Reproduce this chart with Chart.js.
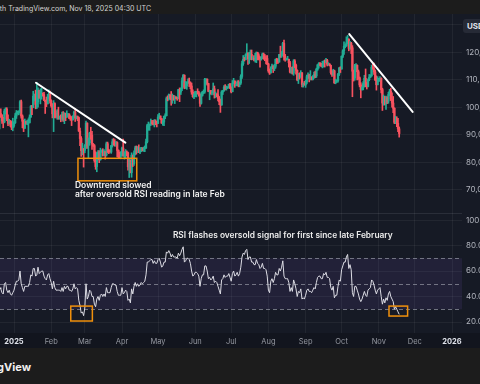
<!DOCTYPE html>
<html>
<head>
<meta charset="utf-8">
<script src="https://cdn.jsdelivr.net/npm/chart.js@4.4.1/dist/chart.umd.min.js"></script>
<style>
  html, body { margin: 0; padding: 0; width: 480px; height: 384px; overflow: hidden; background: #1c1c1c; font-family: Inter, Roboto, sans-serif; }
  #top { position: absolute; left: 0; top: 0; width: 480px; height: 14px; background: #1c1c1c; }
  #top span { position: absolute; right: 329px; top: 4px; font-size: 7px; color: #d4d4d4; white-space: nowrap; }
  #priceBox { position: absolute; left: 0; top: 14px; width: 520px; height: 199px; z-index: 1; }
  #rsiBox { position: absolute; left: 0; top: 213px; width: 520px; height: 135px; z-index: 2; }
  #usd { position: absolute; left: 463px; top: 19px; width: 30px; height: 14px; background: #262a36; border-radius: 3px; color: #e0e3eb; font-size: 8px; font-weight: 700; line-height: 14px; padding-left: 4px; z-index: 3; }
  #rsiTop { position: absolute; left: 466px; top: 215px; font-size: 8px; line-height: 10px; color: #b2b5be; white-space: nowrap; z-index: 10; }
  #foot { position: absolute; left: 0; top: 348px; width: 480px; height: 36px; background: #1c1c1c; }
  #foot span { position: absolute; right: 449px; top: 12px; font-size: 11px; font-weight: 700; color: #f0f0f0; white-space: nowrap; }
</style>
</head>
<body>
<div id="top"><span>Created with TradingView.com, Nov 18, 2025 04:30 UTC</span></div>
<div id="priceBox"><canvas id="price" width="520" height="199"></canvas></div>
<div id="rsiBox"><canvas id="rsi" width="520" height="135"></canvas></div>
<div id="usd">USD</div>
<div id="rsiTop"></div>
<div id="foot"><span>TradingView</span></div>
<script>
// Daily BTC/USD candles (thousands of USD), Dec 20 2024 -> Nov 18 2025
const startDay = -12; // Dec 20, 2024, counted from Jan 1, 2025
const monthStarts = [0, 31, 59, 90, 120, 151, 181, 212, 243, 273, 304, 334, 365];
const monthLabels = ["2025", "Feb", "Mar", "Apr", "May", "Jun", "Jul", "Aug", "Sep", "Oct", "Nov", "Dec", "2026"];
const priceTicks = [70, 80, 90, 100, 110, 120, 130];
const rsiTicks = [20, 40, 60, 80, 100];

const open = [
  97.5, 97.8, 97.1, 95.1, 94.7, 98.7, 99.4, 95.8, 94.2, 95.2, 93.5, 92.6,
  93.4, 94.4, 96.9, 98.1, 98.2, 98.3, 102.1, 96.9, 95.0, 92.5, 94.7, 94.5, 94.5, 94.5, 96.5, 100.5, 99.9, 104.1, 104.4, 101.1, 102.0, 106.1, 103.7, 104.0, 104.8, 104.7, 102.6, 102.1, 101.3, 103.7, 104.7,
  102.4, 100.6, 97.7, 101.4, 97.9, 96.6, 96.6, 96.5, 96.5, 96.1, 97.4, 95.7, 97.9, 96.6, 97.5, 97.6, 96.1, 95.8, 95.5, 96.6, 98.3, 96.1, 96.6, 96.3, 91.4, 88.7, 84.3, 84.7,
  84.4, 86.0, 94.3, 86.1, 87.2, 90.6, 89.9, 86.7, 86.1, 80.7, 78.5, 82.9, 83.7, 81.0, 83.9, 84.3, 82.6, 84.0, 82.7, 86.8, 84.2, 84.0, 83.8, 86.1, 87.5, 87.4, 86.9, 87.2, 84.4, 82.6, 82.3,
  82.5, 85.2, 82.5, 83.1, 83.8, 83.5, 78.4, 79.2, 76.3, 82.6, 79.6, 83.4, 85.3, 83.7, 84.5, 83.7, 84.0, 84.9, 84.5, 85.1, 85.2, 87.5, 93.4, 93.7, 93.9, 94.7, 94.6, 93.8, 94.9, 94.3,
  94.2, 96.5, 96.9, 95.9, 94.3, 94.7, 96.8, 97.0, 103.2, 102.9, 104.6, 104.2, 102.8, 104.2, 103.5, 103.7, 103.5, 103.2, 106.5, 105.6, 106.8, 109.7, 111.7, 107.3, 107.8, 109.0, 109.4, 108.9, 107.8, 105.6, 103.9,
  104.6, 105.7, 105.8, 105.4, 104.7, 101.5, 104.4, 105.6, 105.8, 110.3, 110.3, 108.7, 105.9, 106.1, 105.4, 105.6, 106.8, 104.6, 104.9, 104.6, 103.3, 102.1, 100.9, 105.6, 106.0, 107.4, 106.9, 107.1, 107.3, 108.4,
  107.1, 105.7, 108.8, 109.6, 108.0, 108.2, 109.2, 108.3, 108.9, 111.3, 115.9, 117.5, 117.4, 119.1, 119.8, 117.7, 118.7, 119.3, 117.9, 117.9, 117.3, 117.4, 119.9, 118.8, 118.3, 117.6, 117.9, 119.4, 118.0, 117.9, 117.8,
  115.8, 113.3, 112.5, 114.2, 115.1, 114.1, 115.0, 117.5, 116.7, 116.5, 119.3, 118.7, 120.2, 123.3, 118.4, 117.4, 117.5, 117.5, 116.3, 112.9, 114.3, 112.5, 116.9, 115.4, 113.5, 110.1, 111.8, 111.3, 112.6, 108.4, 108.8,
  108.2, 109.2, 111.2, 111.7, 110.7, 110.7, 110.2, 111.1, 112.0, 111.5, 113.9, 115.5, 116.1, 115.9, 115.3, 115.4, 116.8, 116.5, 117.1, 115.7, 115.7, 115.3, 112.7, 112.0, 113.3, 109.0, 109.7, 109.7, 112.1, 114.4,
  114.0, 118.6, 120.6, 122.3, 122.4, 123.5, 124.8, 121.5, 123.3, 121.7, 113.2, 110.7, 115.2, 115.3, 113.0, 110.8, 108.2, 106.5, 107.2, 108.7, 110.6, 108.5, 107.6, 110.1, 111.0, 111.6, 114.6, 114.1, 112.9, 110.0, 108.3,
  109.6, 110.1, 110.6, 106.5, 101.6, 103.9, 101.3, 103.4, 102.3, 104.7, 105.9, 103.1, 101.6, 99.7, 94.6, 95.6, 94.2, 92.2
];
const high = [
  98.1, 99.5, 97.4, 96.4, 99.4, 99.9, 99.9, 97.3, 95.7, 95.2, 94.9, 96.1,
  94.9, 97.8, 98.9, 98.7, 98.8, 102.5, 102.7, 97.3, 95.4, 95.8, 95.0, 95.4, 95.9, 97.3, 100.7, 100.8, 105.9, 104.9, 106.3, 109.1, 107.1, 106.3, 106.8, 107.1, 105.3, 105.5, 102.7, 103.8, 104.8, 106.4, 106.0,
  102.8, 101.4, 102.5, 101.7, 98.8, 99.2, 100.1, 96.9, 97.3, 98.3, 98.5, 98.1, 97.9, 98.8, 97.9, 97.7, 97.0, 96.7, 97.0, 98.7, 99.5, 96.9, 96.9, 96.5, 92.5, 89.4, 87.0, 85.1,
  86.5, 95.0, 94.4, 88.9, 91.0, 92.8, 91.3, 86.9, 86.5, 83.9, 83.6, 84.3, 84.3, 85.2, 84.6, 85.0, 84.7, 84.0, 87.4, 87.4, 84.8, 84.5, 86.2, 88.5, 88.7, 88.3, 87.7, 87.5, 84.6, 83.8, 83.9,
  85.6, 88.5, 83.9, 84.7, 84.2, 83.8, 81.2, 80.9, 83.5, 82.7, 84.2, 85.9, 86.0, 85.8, 86.4, 85.4, 85.5, 85.4, 85.6, 86.0, 88.5, 93.9, 94.7, 94.0, 95.8, 95.3, 95.3, 95.6, 95.5, 95.0,
  97.4, 97.9, 96.9, 96.0, 95.2, 96.9, 97.7, 103.8, 104.2, 104.9, 104.6, 105.8, 104.9, 104.4, 104.2, 104.0, 103.7, 106.6, 107.1, 107.1, 110.8, 112.0, 111.9, 109.5, 109.3, 110.4, 110.7, 109.3, 108.9, 106.4, 105.0,
  105.9, 105.9, 106.8, 105.9, 105.0, 105.4, 105.9, 106.4, 110.6, 110.4, 110.4, 108.8, 106.2, 106.2, 106.0, 108.9, 107.8, 105.6, 105.0, 106.5, 104.0, 103.0, 106.1, 106.2, 108.0, 108.3, 107.8, 107.6, 108.5, 108.8,
  107.5, 109.8, 110.6, 109.7, 108.5, 109.7, 109.8, 109.3, 111.9, 116.9, 118.9, 118.2, 119.5, 123.2, 119.9, 120.1, 120.9, 120.9, 118.5, 118.9, 119.7, 120.2, 120.1, 119.5, 118.4, 118.5, 119.8, 119.8, 119.3, 118.8, 118.9,
  116.1, 114.0, 114.8, 115.8, 115.2, 115.7, 117.7, 117.9, 117.7, 119.3, 122.3, 120.3, 123.7, 124.5, 119.3, 117.9, 118.6, 117.6, 116.8, 114.6, 114.8, 117.4, 117.4, 115.8, 113.7, 112.4, 112.6, 113.4, 112.7, 108.9, 109.5,
  109.9, 111.8, 112.6, 112.1, 113.4, 111.2, 111.6, 112.9, 113.2, 114.3, 115.6, 116.3, 116.3, 116.1, 116.8, 117.0, 117.3, 117.9, 117.5, 116.3, 116.0, 115.4, 113.4, 113.9, 113.6, 110.3, 110.0, 112.4, 114.5, 114.8,
  118.8, 121.0, 123.9, 122.9, 125.7, 126.2, 125.0, 124.1, 123.7, 122.5, 113.6, 115.7, 116.0, 115.5, 113.6, 111.1, 109.0, 107.5, 109.4, 111.7, 114.0, 109.1, 110.4, 112.0, 111.9, 115.4, 116.0, 116.1, 113.6, 111.5, 111.2,
  110.6, 111.2, 110.8, 107.0, 104.5, 104.0, 104.1, 103.9, 105.5, 106.6, 107.0, 105.3, 104.0, 99.9, 96.8, 96.6, 96.0, 92.9
];
const low = [
  92.2, 96.4, 94.2, 92.6, 94.4, 97.6, 95.2, 93.4, 94.0, 93.0, 91.9, 91.5,
  92.8, 94.2, 96.0, 97.5, 97.3, 97.9, 96.1, 92.6, 91.2, 92.3, 93.9, 93.7, 89.3, 94.3, 96.4, 97.4, 99.9, 102.4, 99.5, 99.6, 100.1, 103.3, 101.3, 103.0, 104.2, 102.5, 97.8, 100.3, 101.3, 103.3, 101.6,
  100.1, 96.2, 91.2, 96.2, 96.2, 95.7, 95.7, 95.7, 94.8, 95.3, 94.9, 94.1, 95.2, 96.3, 96.8, 95.9, 95.3, 93.4, 95.4, 96.4, 94.9, 95.8, 95.2, 91.3, 86.1, 82.2, 82.8, 78.3,
  83.5, 85.1, 85.1, 81.5, 86.3, 88.4, 84.7, 85.8, 80.1, 77.5, 76.6, 80.9, 79.9, 80.8, 83.6, 82.3, 82.5, 81.2, 82.3, 83.6, 83.2, 83.7, 83.3, 85.6, 86.3, 85.9, 85.9, 82.0, 81.6, 81.6, 81.3,
  82.4, 82.2, 81.2, 81.6, 82.4, 77.2, 74.5, 76.2, 74.6, 78.5, 78.9, 82.7, 83.0, 83.6, 83.6, 83.2, 83.9, 84.2, 84.0, 83.9, 85.1, 87.1, 91.7, 91.7, 93.4, 93.9, 93.6, 92.9, 93.7, 92.9,
  94.1, 96.3, 95.6, 94.2, 93.5, 93.4, 95.9, 96.9, 102.4, 102.7, 103.3, 100.8, 101.5, 102.6, 101.4, 103.1, 102.6, 103.1, 102.1, 104.7, 106.1, 109.2, 106.8, 106.9, 106.6, 108.7, 107.6, 106.8, 104.8, 103.7, 103.2,
  103.9, 103.8, 104.9, 104.1, 100.4, 101.2, 104.1, 105.0, 105.2, 108.4, 108.1, 105.7, 102.8, 104.8, 104.6, 105.1, 103.4, 103.6, 103.9, 102.4, 101.0, 98.2, 100.8, 104.7, 105.9, 106.4, 106.3, 106.9, 107.1, 106.8,
  105.3, 105.7, 108.6, 107.3, 107.8, 107.9, 107.5, 107.5, 108.4, 110.6, 115.3, 116.9, 117.3, 118.8, 115.7, 116.0, 117.4, 117.3, 117.4, 116.9, 116.5, 116.3, 117.3, 117.3, 114.7, 117.2, 117.8, 117.5, 117.0, 115.8, 115.6,
  112.8, 112.0, 112.7, 114.2, 112.7, 113.4, 114.3, 115.9, 116.0, 116.5, 118.2, 118.2, 118.9, 117.2, 116.8, 117.2, 117.3, 114.7, 112.6, 112.4, 112.1, 111.7, 114.5, 112.1, 109.7, 108.7, 110.4, 110.9, 107.5, 107.4, 108.1,
  107.3, 108.6, 110.6, 109.3, 110.0, 110.0, 110.0, 110.6, 110.8, 110.9, 113.5, 114.3, 115.1, 114.8, 114.4, 114.7, 114.7, 116.3, 115.1, 115.4, 115.1, 112.1, 111.3, 111.6, 108.7, 108.6, 109.1, 109.2, 111.6, 112.7,
  113.9, 118.1, 119.3, 121.7, 122.2, 123.1, 120.6, 121.1, 119.6, 103.9, 109.6, 109.9, 113.6, 110.0, 110.2, 107.5, 103.5, 106.3, 106.4, 107.5, 107.5, 106.7, 107.5, 109.7, 110.9, 111.3, 113.9, 112.0, 109.8, 106.3, 108.2,
  109.4, 109.8, 105.3, 98.9, 100.8, 100.9, 99.3, 101.4, 101.5, 104.3, 102.5, 100.1, 98.1, 94.1, 94.1, 93.0, 91.2, 89.2
];
const close = [
  97.8, 97.1, 95.1, 94.7, 98.7, 99.4, 95.8, 94.2, 95.2, 93.5, 92.6, 93.4,
  94.4, 96.9, 98.1, 98.2, 98.3, 102.1, 96.9, 95.0, 92.5, 94.7, 94.5, 94.5, 94.5, 96.5, 100.5, 99.9, 104.1, 104.4, 101.1, 102.0, 106.1, 103.7, 104.0, 104.8, 104.7, 102.6, 102.1, 101.3, 103.7, 104.7, 102.4,
  100.6, 97.7, 101.4, 97.9, 96.6, 96.6, 96.5, 96.5, 96.1, 97.4, 95.7, 97.9, 96.6, 97.5, 97.6, 96.1, 95.8, 95.5, 96.6, 98.3, 96.1, 96.6, 96.3, 91.4, 88.7, 84.3, 84.7, 84.4,
  86.0, 94.3, 86.1, 87.2, 90.6, 89.9, 86.7, 86.1, 80.7, 78.5, 82.9, 83.7, 81.0, 83.9, 84.3, 82.6, 84.0, 82.7, 86.8, 84.2, 84.0, 83.8, 86.1, 87.5, 87.4, 86.9, 87.2, 84.4, 82.6, 82.3, 82.5,
  85.2, 82.5, 83.1, 83.8, 83.5, 78.4, 79.2, 76.3, 82.6, 79.6, 83.4, 85.3, 83.7, 84.5, 83.7, 84.0, 84.9, 84.5, 85.1, 85.2, 87.5, 93.4, 93.7, 93.9, 94.7, 94.6, 93.8, 94.9, 94.3, 94.2,
  96.5, 96.9, 95.9, 94.3, 94.7, 96.8, 97.0, 103.2, 102.9, 104.6, 104.2, 102.8, 104.2, 103.5, 103.7, 103.5, 103.2, 106.5, 105.6, 106.8, 109.7, 111.7, 107.3, 107.8, 109.0, 109.4, 108.9, 107.8, 105.6, 103.9, 104.6,
  105.7, 105.8, 105.4, 104.7, 101.5, 104.4, 105.6, 105.8, 110.3, 110.3, 108.7, 105.9, 106.1, 105.4, 105.6, 106.8, 104.6, 104.9, 104.6, 103.3, 102.1, 100.9, 105.6, 106.0, 107.4, 106.9, 107.1, 107.3, 108.4, 107.1,
  105.7, 108.8, 109.6, 108.0, 108.2, 109.2, 108.3, 108.9, 111.3, 115.9, 117.5, 117.4, 119.1, 119.8, 117.7, 118.7, 119.3, 117.9, 117.9, 117.3, 117.4, 119.9, 118.8, 118.3, 117.6, 117.9, 119.4, 118.0, 117.9, 117.8, 115.8,
  113.3, 112.5, 114.2, 115.1, 114.1, 115.0, 117.5, 116.7, 116.5, 119.3, 118.7, 120.2, 123.3, 118.4, 117.4, 117.5, 117.5, 116.3, 112.9, 114.3, 112.5, 116.9, 115.4, 113.5, 110.1, 111.8, 111.3, 112.6, 108.4, 108.8, 108.2,
  109.2, 111.2, 111.7, 110.7, 110.7, 110.2, 111.1, 112.0, 111.5, 113.9, 115.5, 116.1, 115.9, 115.3, 115.4, 116.8, 116.5, 117.1, 115.7, 115.7, 115.3, 112.7, 112.0, 113.3, 109.0, 109.7, 109.7, 112.1, 114.4, 114.0,
  118.6, 120.6, 122.3, 122.4, 123.5, 124.8, 121.5, 123.3, 121.7, 113.2, 110.7, 115.2, 115.3, 113.0, 110.8, 108.2, 106.5, 107.2, 108.7, 110.6, 108.5, 107.6, 110.1, 111.0, 111.6, 114.6, 114.1, 112.9, 110.0, 108.3, 109.6,
  110.1, 110.6, 106.5, 101.6, 103.9, 101.3, 103.4, 102.3, 104.7, 105.9, 103.1, 101.6, 99.7, 94.6, 95.6, 94.2, 92.2, 90.5
];
const rsi = [
  47, 46, 43, 42, 50, 51, 45, 43, 45, 42, 41, 43,
  45, 49, 52, 52, 53, 60, 50, 47, 44, 48, 48, 48, 48, 51, 57, 56, 62, 62, 56, 57, 63, 58, 59, 60, 60, 56, 54, 53, 57, 58, 54,
  51, 46, 52, 47, 45, 45, 45, 45, 44, 47, 44, 48, 46, 48, 48, 45, 45, 44, 46, 50, 46, 47, 46, 37, 33, 27, 28, 25,
  31, 50, 38, 40, 45, 44, 40, 40, 34, 32, 38, 40, 37, 41, 42, 40, 42, 40, 47, 43, 43, 43, 47, 50, 50, 49, 49, 44, 41, 41, 41,
  47, 42, 43, 45, 44, 37, 38, 35, 46, 42, 48, 51, 48, 50, 48, 49, 51, 50, 51, 52, 57, 67, 67, 68, 69, 69, 66, 68, 66, 66,
  69, 70, 67, 63, 64, 67, 67, 75, 74, 76, 74, 71, 73, 71, 71, 71, 70, 74, 72, 74, 77, 79, 67, 68, 70, 70, 69, 66, 60, 56, 57,
  59, 59, 58, 56, 48, 54, 57, 57, 64, 64, 60, 54, 55, 53, 54, 56, 51, 52, 51, 48, 45, 42, 53, 54, 57, 55, 56, 56, 58, 55,
  52, 58, 60, 56, 57, 59, 56, 58, 63, 71, 74, 73, 76, 77, 69, 71, 71, 67, 67, 65, 65, 69, 66, 65, 62, 63, 66, 62, 62, 61, 56,
  45, 43, 52, 54, 51, 54, 59, 57, 57, 62, 60, 63, 68, 56, 54, 54, 54, 51, 44, 47, 44, 53, 50, 46, 40, 44, 43, 46, 38, 39, 38,
  41, 45, 46, 44, 44, 43, 45, 47, 46, 51, 55, 56, 56, 54, 54, 58, 57, 59, 55, 55, 54, 47, 45, 48, 39, 41, 41, 48, 53, 52,
  61, 64, 67, 67, 71, 73, 62, 65, 61, 43, 40, 48, 48, 45, 42, 38, 36, 38, 41, 44, 41, 40, 45, 46, 47, 53, 52, 49, 45, 42, 45,
  46, 47, 40, 34, 38, 35, 39, 37, 42, 44, 40, 38, 36, 30, 32, 30, 28, 26
];

// annotations, in chart coordinates (day, price / day, rsi)
const trendLines = [[18.3, 109.0, 92.8, 87.2], [279.4, 126.7, 332.2, 98.4]];
const priceBox = [53.3, 81.5, 102.3, 73.3];
const priceNote = ["Downtrend slowed", "after oversold RSI reading in late Feb"];
const rsiBoxes = [[47.3, 32.5, 65.3, 20.8], [312.5, 32.5, 328, 24.7]];
const rsiTitle = "RSI flashes oversold signal for first since late February";

const days = close.map((c, i) => startDay + i);
const xMin = -11.67, xMax = 373.33;
const up = "#22ab94", down = "#f7525f";
const gridColor = "rgba(255,255,255,0.055)";
const axisText = "#b2b5be";
const orange = "#f0900c";
const candleColors = close.map((c, i) => (c >= open[i] ? up : down));

const bg = {
  id: "bg",
  beforeDraw(chart) {
    const { ctx, width, height, chartArea } = chart;
    ctx.save();
    ctx.fillStyle = "#161a25";
    ctx.fillRect(0, 0, width, height);
    if (chart.canvas.id === "rsi") {
      ctx.fillStyle = "#12151e";
      ctx.fillRect(0, chartArea.bottom, width, height - chartArea.bottom);
      ctx.fillStyle = "#2a2e39";
      ctx.fillRect(0, 0, chartArea.right, 1);
    }
    ctx.restore();
  },
};

const priceNotes = {
  id: "priceNotes",
  afterDatasetsDraw(chart) {
    const { ctx } = chart;
    const x = chart.scales.x, y = chart.scales.y;
    ctx.save();
    ctx.strokeStyle = "#ffffff";
    ctx.lineWidth = 2;
    ctx.lineCap = "round";
    trendLines.forEach(function (l) {
      ctx.beginPath();
      ctx.moveTo(x.getPixelForValue(l[0]), y.getPixelForValue(l[1]));
      ctx.lineTo(x.getPixelForValue(l[2]), y.getPixelForValue(l[3]));
      ctx.stroke();
    });
    ctx.strokeStyle = orange;
    ctx.lineWidth = 1.5;
    const x1 = x.getPixelForValue(priceBox[0]), y1 = y.getPixelForValue(priceBox[1]);
    ctx.strokeRect(x1, y1, x.getPixelForValue(priceBox[2]) - x1, y.getPixelForValue(priceBox[3]) - y1);
    ctx.fillStyle = "#f2f2f2";
    ctx.font = "600 8.5px Inter";
    ctx.textBaseline = "middle";
    const tx = x.getPixelForValue(50.8);
    ctx.fillText(priceNote[0], tx, y.getPixelForValue(71.5));
    ctx.fillText(priceNote[1], tx, y.getPixelForValue(68.4));
    ctx.restore();
  },
};

const rsiNotes = {
  id: "rsiNotes",
  beforeDatasetsDraw(chart) {
    const { ctx, chartArea } = chart;
    const y = chart.scales.y;
    ctx.save();
    ctx.fillStyle = "rgba(126,87,194,0.12)";
    const bandTop = y.getPixelForValue(70);
    ctx.fillRect(chartArea.left, bandTop, chartArea.width, y.getPixelForValue(30) - bandTop);
    ctx.strokeStyle = "rgba(150,153,165,0.7)";
    ctx.lineWidth = 1;
    ctx.setLineDash([4, 3]);
    [70, 50, 30].forEach(function (v) {
      const py = Math.round(y.getPixelForValue(v)) + 0.5;
      ctx.beginPath();
      ctx.moveTo(chartArea.left, py);
      ctx.lineTo(chartArea.right, py);
      ctx.stroke();
    });
    ctx.restore();
  },
  afterDatasetsDraw(chart) {
    const { ctx } = chart;
    const x = chart.scales.x, y = chart.scales.y;
    ctx.save();
    ctx.strokeStyle = orange;
    ctx.lineWidth = 1.5;
    rsiBoxes.forEach(function (b) {
      const x1 = x.getPixelForValue(b[0]), y1 = y.getPixelForValue(b[1]);
      ctx.strokeRect(x1, y1, x.getPixelForValue(b[2]) - x1, y.getPixelForValue(b[3]) - y1);
    });
    ctx.fillStyle = "#ececec";
    ctx.font = "600 8.4px Inter";
    ctx.textAlign = "center";
    ctx.textBaseline = "middle";
    ctx.fillText(rsiTitle, x.getPixelForValue(224), y.getPixelForValue(88.2));
    ctx.restore();
  },
};

const monthTicks = function (s) {
  s.ticks = monthStarts.map((v) => ({ value: v }));
};
// keep the plot area flush with the canvas edges
const noPad = function (s) {
  s.paddingTop = 0;
  s.paddingBottom = 0;
  s.paddingLeft = 0;
  s.paddingRight = 0;
};

new Chart(document.getElementById("price"), {
  type: "bar",
  data: {
    datasets: [
      {
        data: days.map((d, i) => ({ x: d, y: [low[i], high[i]] })),
        backgroundColor: candleColors,
        barThickness: 1,
        grouped: false,
      },
      {
        data: days.map((d, i) => ({ x: d, y: [open[i], close[i]] })),
        backgroundColor: candleColors,
        barThickness: 1.6,
        grouped: false,
      },
    ],
  },
  options: {
    responsive: false,
    animation: false,
    layout: { padding: 0 },
    plugins: { legend: { display: false }, tooltip: { enabled: false } },
    scales: {
      x: {
        type: "linear",
        min: xMin,
        max: xMax,
        offset: false,
        grid: { offset: false, color: gridColor, drawTicks: false },
        border: { display: false },
        ticks: { display: false },
        afterBuildTicks: monthTicks,
        afterFit: (s) => { s.height = 0; noPad(s); },
      },
      y: {
        position: "right",
        min: 61.6,
        max: 134,
        grid: { color: gridColor, drawTicks: false },
        border: { display: false },
        ticks: {
          autoSkip: false,
          color: axisText,
          font: { size: 8, family: "Inter" },
          padding: 4,
          callback: (v) => (v * 1000).toLocaleString("en-US", { minimumFractionDigits: 2 }),
        },
        afterBuildTicks: (s) => { s.ticks = priceTicks.map((v) => ({ value: v })); },
        afterFit: (s) => { s.width = 58; noPad(s); },
      },
    },
  },
  plugins: [bg, priceNotes],
});

const rsiChart = new Chart(document.getElementById("rsi"), {
  type: "line",
  data: {
    datasets: [
      {
        data: days.map((d, i) => ({ x: d, y: rsi[i] })),
        borderColor: "#dcdce4",
        borderWidth: 1,
        pointRadius: 0,
        tension: 0,
      },
    ],
  },
  options: {
    responsive: false,
    animation: false,
    layout: { padding: 0 },
    plugins: { legend: { display: false }, tooltip: { enabled: false } },
    scales: {
      x: {
        type: "linear",
        min: xMin,
        max: xMax,
        grid: { color: gridColor, drawTicks: false },
        border: { display: false },
        ticks: {
          autoSkip: false,
          maxRotation: 0,
          padding: 4,
          color: (c) => (c.index === 0 || c.index === 12 ? "#e0e3eb" : "#9598a1"),
          font: (c) => ({ size: 7.5, family: "Inter", weight: c.index === 0 || c.index === 12 ? "bold" : "normal" }),
          callback: (v, i) => monthLabels[i],
        },
        afterBuildTicks: monthTicks,
        afterFit: (s) => { s.height = 15; noPad(s); },
      },
      y: {
        position: "right",
        min: 11.4,
        max: 105.5,
        grid: { color: gridColor, drawTicks: false },
        border: { display: false },
        ticks: {
          autoSkip: false,
          color: axisText,
          font: { size: 8, family: "Inter" },
          padding: 4,
          callback: (v) => (v === 100 ? "" : v.toFixed(2)),
        },
        afterBuildTicks: (s) => { s.ticks = rsiTicks.map((v) => ({ value: v })); },
        afterFit: (s) => { s.width = 58; noPad(s); },
      },
    },
  },
  plugins: [bg, rsiNotes],
});

// top RSI tick label, placed from the RSI scale on top of everything
(function () {
  const ys = rsiChart.scales.y;
  const topTick = rsiTicks[rsiTicks.length - 1];
  const el = document.getElementById("rsiTop");
  el.textContent = topTick.toFixed(2);
  el.style.left = (ys.left + 4) + "px";
  el.style.top = (213 + ys.getPixelForValue(topTick) - 5) + "px";
})();
</script>
</body>
</html>
